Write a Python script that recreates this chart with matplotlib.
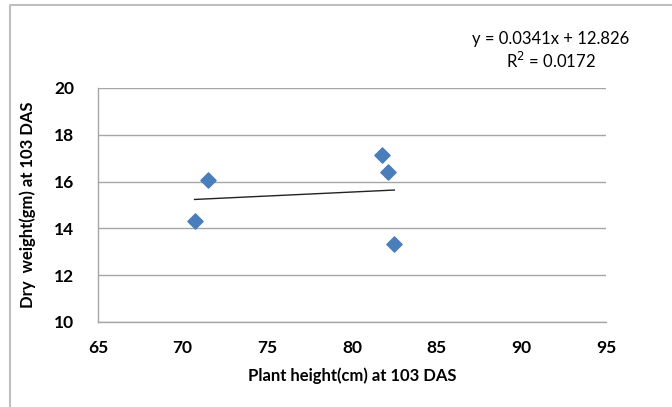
import numpy as np
import matplotlib
matplotlib.use("Agg")
import matplotlib.pyplot as plt
from matplotlib.lines import Line2D

# Plant height vs dry weight at 103 DAS
plant_height = [70.7, 71.5, 81.8, 82.15, 82.5]
dry_weight = [14.32, 16.08, 17.13, 16.42, 13.32]
slope = 0.0341
intercept = 12.826
r_squared = 0.0172
x_ticks = [65, 70, 75, 80, 85, 90, 95]
y_ticks = [10, 12, 14, 16, 18, 20]

plt.rcParams['font.family'] = ['Lato', 'DejaVu Sans']

fig = plt.figure(figsize=(6.72, 4.07), dpi=100)
W, H = 672, 407

# chart-area frame (top and left edges visible)
fig.add_artist(Line2D([10 / W, 10 / W, 1.0], [0.0, 1 - 5 / H, 1 - 5 / H],
                      transform=fig.transFigure, color='#bfbfbf', lw=1.5))

ax = fig.add_axes([98 / W, 1 - 322 / H, (606 - 98) / W, (322 - 88) / H])
ax.set_xlim(65, 95)
ax.set_ylim(10, 20)
ax.set_xticks(x_ticks)
ax.set_yticks(y_ticks)
ax.yaxis.grid(True, color='#a6a6a6', lw=1.0)
ax.set_axisbelow(True)
for side in ('top', 'right'):
    ax.spines[side].set_visible(False)
for side in ('left', 'bottom'):
    ax.spines[side].set_color('#a6a6a6')
    ax.spines[side].set_linewidth(1.0)
ax.tick_params(length=0, labelsize=12.5)
ax.tick_params(axis='x', pad=13)
ax.tick_params(axis='y', pad=17)
for lbl in ax.get_xticklabels() + ax.get_yticklabels():
    lbl.set_fontweight('bold')

ax.scatter(plant_height, dry_weight, marker='D', s=60, color='#4a7ebb',
           edgecolors='#4a7ebb', zorder=3)

xs = np.array([min(plant_height), max(plant_height)])
ax.plot(xs, slope * xs + intercept, color='#222222', lw=1.0, zorder=2)

ax.set_xlabel('Plant height(cm) at 103 DAS', fontsize=12, fontweight='bold',
              labelpad=8)
ax.set_ylabel('Dry  weight(gm) at 103 DAS', fontsize=12, fontweight='bold',
              labelpad=13)

fig.text(551 / W, 1 - 39 / H, f'y = {slope}x + {intercept}', ha='center',
         va='center', fontsize=12)
fig.text(551 / W, 1 - 61 / H, f'R$^2$ = {r_squared}', ha='center',
         va='center', fontsize=12)

fig.savefig('out.png', dpi=100)
